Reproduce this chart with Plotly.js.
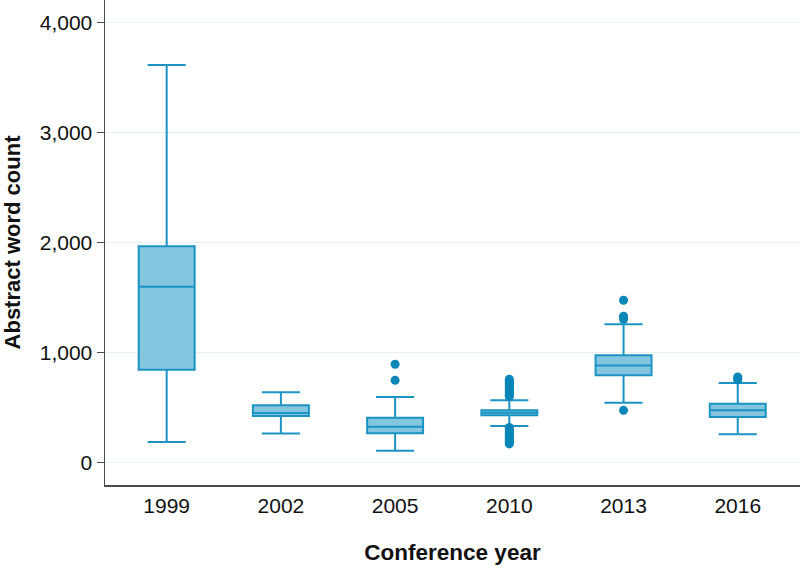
<!DOCTYPE html>
<html>
<head>
<meta charset="utf-8">
<script src="https://cdn.plot.ly/plotly-3.0.1.min.js"></script>
<style>html,body{margin:0;padding:0;background:#fff}#chart{width:800px;height:571px}</style>
</head>
<body>
<div id="chart"></div>
<script>
// Category labels (conference years)
const years = ["1999", "2002", "2005", "2010", "2013", "2016"];

// Box statistics (abstract word count)
const lowerFence = [187, 264, 109, 333, 545, 257];
const q1Values   = [845, 424, 266, 430, 794, 415];
const medians    = [1597, 451, 327, 454, 882, 475];
const q3Values   = [1966, 521, 409, 475, 975, 536];
const upperFence = [3612, 639, 597, 566, 1257, 724];

// Outliers per year
const outliers1999 = [];
const outliers2002 = [];
const outliers2005 = [748, 894];
const outliers2010 = [600, 612, 625, 638, 652, 665, 678, 692, 705, 718, 732, 745, 758,
                      320, 306, 292, 278, 264, 250, 236, 222, 208, 194, 180, 170];
const outliers2013 = [1475, 1330, 1316, 1302, 475];
const outliers2016 = [778, 764, 752];

const yTickVals = [0, 1000, 2000, 3000, 4000];

const outlierGroups = [outliers1999, outliers2002, outliers2005, outliers2010, outliers2013, outliers2016];
const outX = [], outY = [];
outlierGroups.forEach((g, i) => g.forEach(v => { outX.push(years[i]); outY.push(v); }));

const boxTrace = {
  type: 'box',
  x: years,
  q1: q1Values,
  median: medians,
  q3: q3Values,
  lowerfence: lowerFence,
  upperfence: upperFence,
  boxpoints: false,
  width: 0.49,
  whiskerwidth: 0.68,
  fillcolor: '#84c5e0',
  line: {color: '#1b93c3', width: 2},
  hoverinfo: 'skip',
  showlegend: false
};

const outlierTrace = {
  type: 'scatter',
  mode: 'markers',
  x: outX,
  y: outY,
  marker: {color: '#0a86b8', size: 9},
  hoverinfo: 'skip',
  showlegend: false
};

const axisColor = '#4a4a4a';
const layout = {
  width: 800,
  height: 571,
  margin: {l: 105, r: 0, t: 0, b: 86},
  paper_bgcolor: '#ffffff',
  plot_bgcolor: '#ffffff',
  font: {family: 'Liberation Sans, Arial, sans-serif', size: 21, color: '#111111'},
  showlegend: false,
  xaxis: {
    type: 'category',
    range: [-0.54, 5.545],
    showline: true,
    linecolor: axisColor,
    linewidth: 1.5,
    ticks: '',
    showgrid: false,
    zeroline: false,
    tickfont: {size: 21, color: '#111111'},
    ticklabelstandoff: 1,
    title: {text: '<b>Conference year</b>', font: {size: 22.5, color: '#111111'}, standoff: 28}
  },
  yaxis: {
    range: [-203, 4203],
    tickvals: yTickVals,
    tickformat: ',',
    showline: true,
    linecolor: axisColor,
    linewidth: 1.5,
    ticks: 'outside',
    ticklen: 7,
    tickwidth: 1.5,
    tickcolor: axisColor,
    showgrid: true,
    gridcolor: '#e8f0f2',
    gridwidth: 1.5,
    zeroline: false,
    tickfont: {size: 21, color: '#111111'},
    title: {text: '<b>Abstract word count</b>', font: {size: 22, color: '#111111'}, standoff: 13}
  }
};

Plotly.newPlot('chart', [boxTrace, outlierTrace], layout, {staticPlot: true, displayModeBar: false});
</script>
</body>
</html>
